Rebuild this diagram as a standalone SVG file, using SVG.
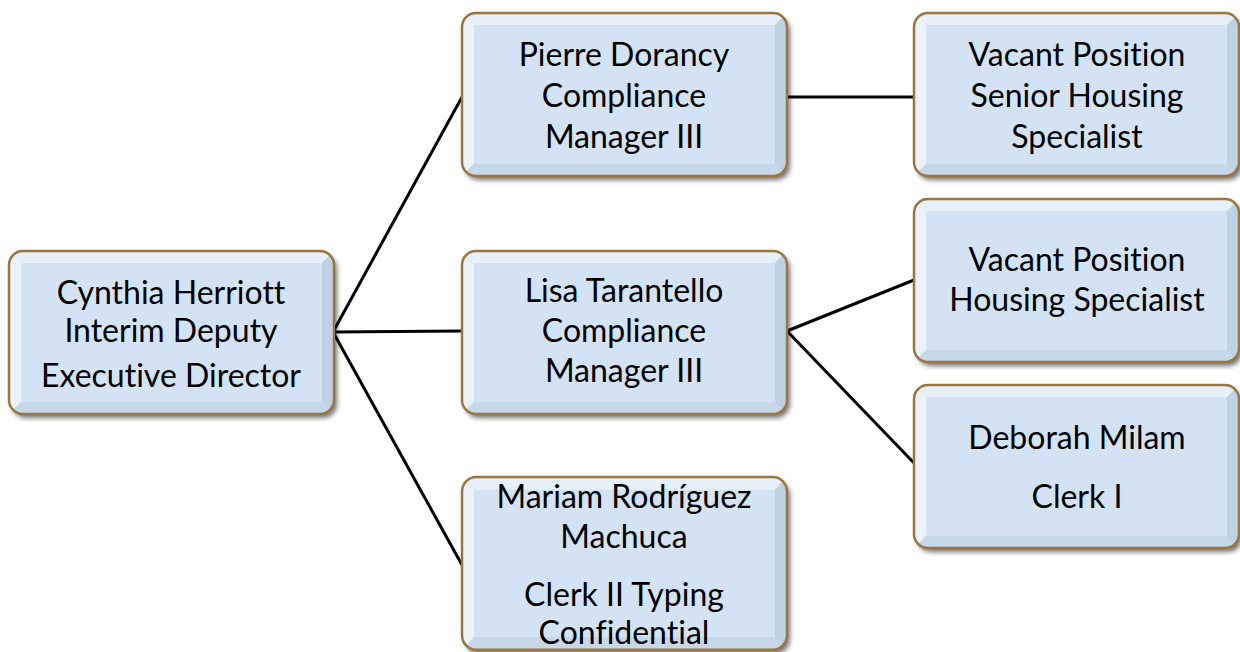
<svg xmlns="http://www.w3.org/2000/svg" xmlns:xlink="http://www.w3.org/1999/xlink" width="1240" height="652" viewBox="0 0 1240 652">
<style>
.t{font-family:Lato,"Open Sans","Liberation Sans",sans-serif;font-size:32px;fill:#000;text-anchor:middle;font-variant-ligatures:none}
.c{stroke:#000;stroke-width:3;fill:none}
</style>
<defs>
<filter id="sh" x="-10%" y="-10%" width="125%" height="130%">
<feGaussianBlur in="SourceAlpha" stdDeviation="2.5"/>
<feOffset dx="3" dy="4" result="b"/>
<feComponentTransfer><feFuncA type="linear" slope="0.55"/></feComponentTransfer>
<feMerge><feMergeNode/><feMergeNode in="SourceGraphic"/></feMerge>
</filter>
<clipPath id="cp"><rect x="0" y="0" width="325" height="163" rx="14"/></clipPath>
<g id="box">
<rect x="0" y="0" width="325" height="163" rx="14" fill="#d3e3f3" filter="url(#sh)"/>
<g clip-path="url(#cp)">
<polygon points="0,0 325,0 313,12 12,12" fill="#e6f0f9"/>
<polygon points="0,0 12,12 12,151 0,163" fill="#eaf2fa"/>
<polygon points="325,0 325,163 313,151 313,12" fill="#bfd2e4"/>
<polygon points="0,163 12,151 313,151 325,163" fill="#c6d7e8"/>
</g>
<rect x="0" y="0" width="325" height="163" rx="14" fill="none" stroke="#9a7640" stroke-width="2.5"/>
</g>
</defs>
<g id="connectors">
<line class="c" x1="333" y1="332" x2="462" y2="97"/>
<line class="c" x1="333" y1="332" x2="462" y2="331"/>
<line class="c" x1="333" y1="332" x2="462" y2="565"/>
<line class="c" x1="787" y1="97" x2="914" y2="97"/>
<line class="c" x1="787" y1="331" x2="914" y2="280"/>
<line class="c" x1="787" y1="331" x2="914" y2="463"/>
</g>
<g id="n-cynthia">
<use xlink:href="#box" transform="translate(9,251)"/>
<text class="t" x="171" y="304">Cynthia Herriott</text>
<text class="t" x="171" y="342">Interim Deputy</text>
<text class="t" x="171" y="387">Executive Director</text>
</g>
<g id="n-pierre">
<use xlink:href="#box" transform="translate(462,13)"/>
<text class="t" x="624" y="66">Pierre Dorancy</text>
<text class="t" x="624" y="107">Compliance</text>
<text class="t" x="624" y="148">Manager III</text>
</g>
<g id="n-vacant1">
<use xlink:href="#box" transform="translate(914,13)"/>
<text class="t" x="1077" y="66">Vacant Position</text>
<text class="t" x="1077" y="107">Senior Housing</text>
<text class="t" x="1077" y="148">Specialist</text>
</g>
<g id="n-lisa">
<use xlink:href="#box" transform="translate(462,251)"/>
<text class="t" x="624" y="302">Lisa Tarantello</text>
<text class="t" x="624" y="342">Compliance</text>
<text class="t" x="624" y="382">Manager III</text>
</g>
<g id="n-vacant2">
<use xlink:href="#box" transform="translate(914,199)"/>
<text class="t" x="1077" y="271">Vacant Position</text>
<text class="t" x="1077" y="311">Housing Specialist</text>
</g>
<g id="n-deborah">
<use xlink:href="#box" transform="translate(914,385)"/>
<text class="t" x="1077" y="449">Deborah Milam</text>
<text class="t" x="1077" y="508">Clerk I</text>
</g>
<g id="n-mariam">
<use xlink:href="#box" transform="translate(462,477) scale(1,1.06)"/>
<text class="t" x="624" y="508">Mariam Rodríguez</text>
<text class="t" x="624" y="548">Machuca</text>
<text class="t" x="624" y="606">Clerk II Typing</text>
<text class="t" x="624" y="644">Confidential</text>
</g>
</svg>
